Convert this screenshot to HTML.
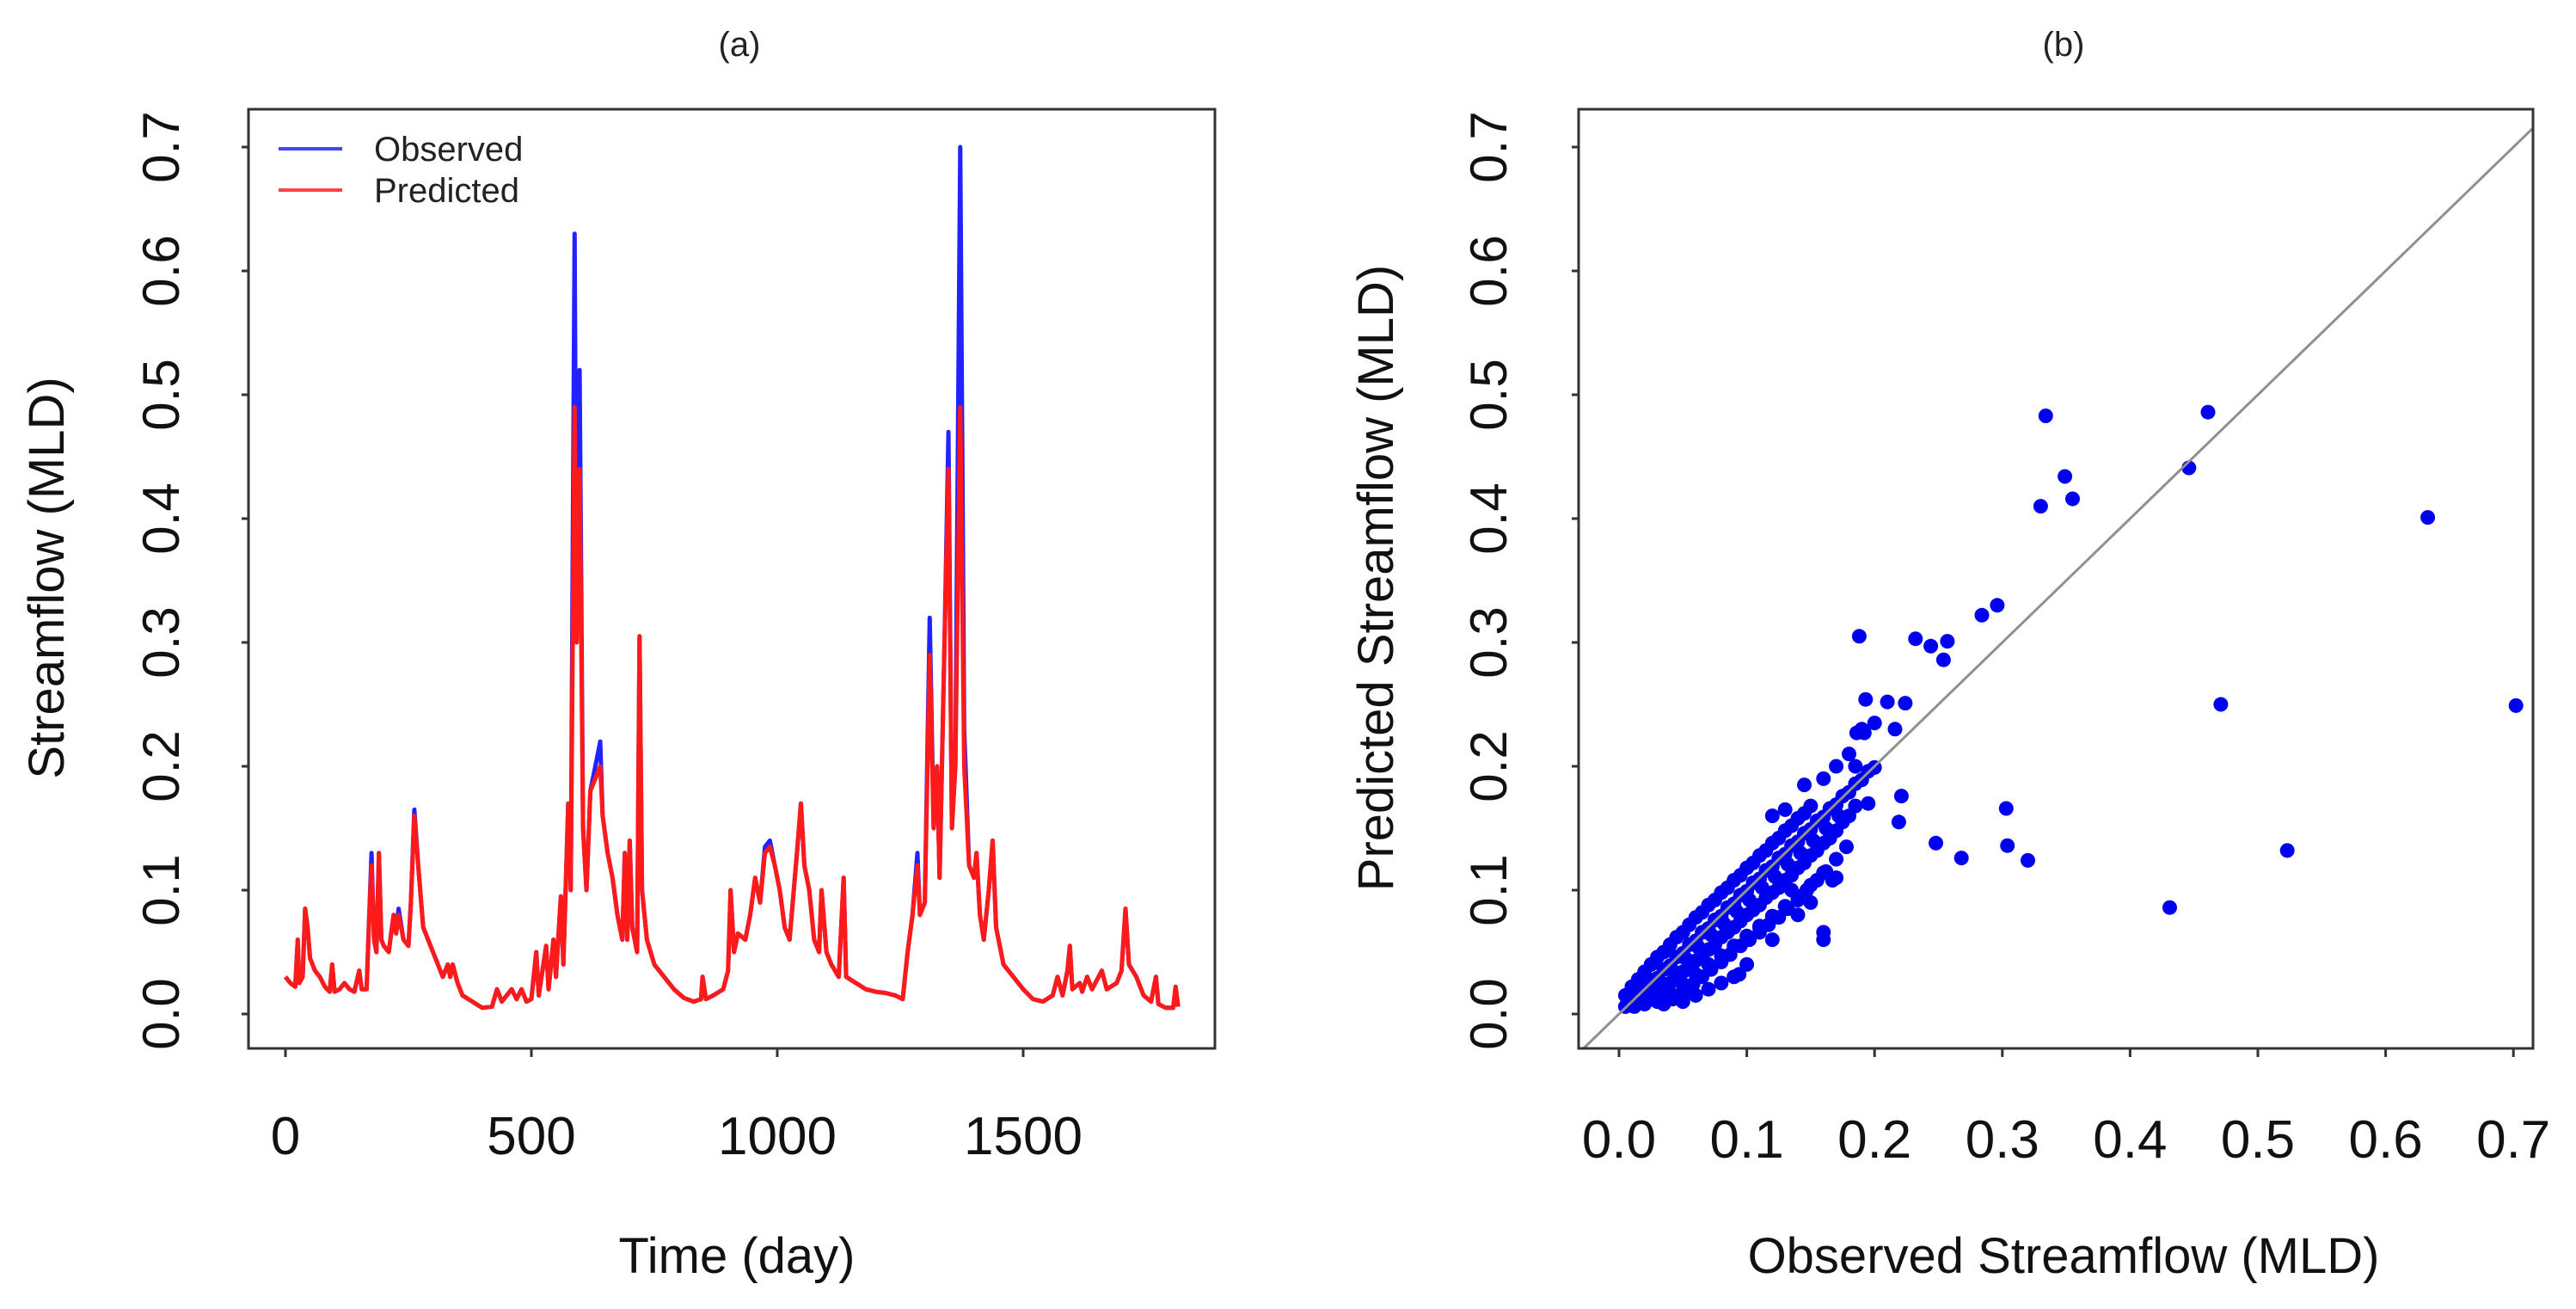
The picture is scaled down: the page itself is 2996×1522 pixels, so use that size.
<!DOCTYPE html>
<html><head><meta charset="utf-8">
<style>
html,body{margin:0;padding:0;background:#fff;}
svg{display:block;font-family:"Liberation Sans",Arial,sans-serif;}
</style></head>
<body>
<svg id="fig" width="2996" height="1522" viewBox="0 0 2996 1522" xmlns="http://www.w3.org/2000/svg">
<rect width="2996" height="1522" fill="#fff"/>
<g id="panelA"></g>
<g id="panelB"></g>
</svg>
<script>
// ---- Panel (a) data: day, observed, predicted ----
const days = [0,10,20,25,28,35,40,45,50,60,70,80,90,95,100,110,120,130,140,150,155,165,170,175,180,185,190,195,200,210,220,225,230,240,250,255,262,270,280,290,300,320,330,335,340,350,360,380,400,420,430,440,460,470,480,490,500,510,515,530,535,545,550,560,565,575,580,588,592,598,605,612,620,630,640,645,655,665,675,685,690,695,700,705,715,720,725,735,750,770,790,810,830,845,848,855,870,890,900,905,912,920,935,945,955,965,975,985,995,1005,1015,1025,1040,1048,1055,1065,1075,1085,1090,1100,1110,1125,1135,1140,1160,1180,1200,1220,1240,1255,1265,1275,1285,1290,1300,1310,1318,1325,1330,1340,1348,1355,1362,1372,1380,1390,1400,1405,1412,1420,1430,1438,1445,1460,1480,1500,1520,1540,1560,1570,1580,1590,1595,1600,1615,1620,1630,1640,1660,1670,1690,1700,1708,1715,1730,1745,1760,1770,1775,1790,1805,1810,1815];
const observed = [.03,.025,.022,.06,.025,.03,.085,.07,.045,.035,.03,.022,.018,.04,.018,.02,.025,.02,.018,.035,.02,.02,.075,.13,.06,.05,.13,.06,.055,.05,.08,.065,.085,.06,.055,.09,.165,.12,.07,.06,.05,.03,.04,.03,.04,.025,.015,.01,.005,.006,.02,.01,.02,.012,.02,.01,.012,.05,.015,.055,.02,.06,.03,.095,.04,.17,.1,.63,.3,.52,.15,.1,.18,.2,.22,.16,.13,.11,.08,.06,.13,.06,.14,.07,.05,.305,.1,.06,.04,.03,.02,.013,.01,.012,.03,.012,.015,.02,.035,.1,.05,.065,.06,.08,.11,.09,.135,.14,.12,.1,.07,.06,.13,.17,.12,.1,.06,.05,.1,.05,.04,.03,.11,.03,.025,.02,.018,.017,.015,.012,.05,.08,.13,.08,.09,.32,.15,.2,.11,.3,.47,.15,.2,.7,.23,.12,.11,.13,.08,.06,.1,.14,.07,.04,.03,.02,.012,.01,.015,.03,.015,.035,.055,.02,.025,.018,.03,.02,.035,.02,.025,.035,.085,.04,.03,.015,.01,.03,.008,.005,.005,.022,.006];
const predicted = [.03,.025,.022,.06,.025,.03,.085,.07,.045,.035,.03,.022,.018,.04,.018,.02,.025,.02,.018,.035,.02,.02,.075,.12,.06,.05,.13,.06,.055,.05,.08,.065,.08,.06,.055,.09,.16,.12,.07,.06,.05,.03,.04,.03,.04,.025,.015,.01,.005,.006,.02,.01,.02,.012,.02,.01,.012,.05,.015,.055,.02,.06,.03,.095,.04,.17,.1,.49,.3,.44,.15,.1,.18,.19,.2,.16,.13,.11,.08,.06,.13,.06,.14,.07,.05,.305,.1,.06,.04,.03,.02,.013,.01,.012,.03,.012,.015,.02,.035,.1,.05,.065,.06,.08,.11,.09,.13,.135,.12,.1,.07,.06,.13,.17,.12,.1,.06,.05,.1,.05,.04,.03,.11,.03,.025,.02,.018,.017,.015,.012,.05,.08,.12,.08,.09,.29,.15,.2,.11,.3,.44,.15,.2,.49,.2,.12,.11,.13,.08,.06,.1,.14,.07,.04,.03,.02,.012,.01,.015,.03,.015,.035,.055,.02,.025,.018,.03,.02,.035,.02,.025,.035,.085,.04,.03,.015,.01,.03,.008,.005,.005,.022,.006];
const xTicksA = [0,500,1000,1500];
const yTicks = [0,0.1,0.2,0.3,0.4,0.5,0.6,0.7];
const yTickLabels = ["0.0","0.1","0.2","0.3","0.4","0.5","0.6","0.7"];
// ---- Panel (b) data: observed vs predicted pairs ----
const scatterObs = [
.334,.461,.349,.446,.355,.330,.633,.296,.284,.188,.232,.244,.257,.254,.471,.702,.193,.210,.224,.216,.186,.192,.221,.303,.219,.248,.304,.268,.320,.523,.431,.160,.167,.094,
.005,.01,.015,.02,.025,.03,.035,.04,.045,.05,.055,.06,.065,.07,.075,.08,.085,.09,.095,.1,.105,.11,.115,.12,.125,.13,.135,.14,.145,.15,.155,.16,.165,.17,.175,.18,.185,.19,.195,.2,
.005,.01,.015,.02,.025,.03,.035,.04,.045,.05,.055,.06,.065,.07,.075,.08,.085,.09,.095,.1,.105,.11,.115,.12,.125,.13,.135,.14,.145,.15,
.02,.025,.03,.035,.04,.045,.05,.055,.06,.065,.07,.075,.08,.085,.09,.095,.1,.105,.11,.115,.12,.125,.13,.135,.14,.145,.15,.155,.16,.165,.17,.175,.18,.185,
.035,.042,.05,.058,.065,.072,.08,.087,.095,.102,.11,.117,.125,.132,.14,.147,.155,.162,.17,.178,
.05,.06,.07,.12,.13,.145,.16,.17,.18,.19,.2,.185,.195,.16,.14,.15,.135,.17,.12,.1,.09,.08,.11,
.012,.022,.032,.042,.052,.062,.072,.082,.092,.102,.112,.122,.132,.142,.152,.162,.172,
.03,.04,.05,.06,.07,.08,.09,.1,.11,.12,.13,.14,.15,.16];
const scatterPred = [
.483,.486,.434,.441,.416,.410,.401,.330,.322,.305,.303,.297,.301,.286,.250,.249,.254,.252,.251,.230,.227,.227,.176,.166,.155,.138,.136,.126,.124,.132,.086,.066,.108,.032,
.006,.009,.016,.019,.026,.029,.036,.039,.046,.049,.056,.059,.066,.069,.076,.079,.086,.089,.096,.099,.106,.109,.116,.119,.126,.129,.136,.139,.146,.149,.156,.159,.166,.169,.176,.179,.186,.189,.196,.199,
.015,.022,.028,.034,.04,.046,.05,.056,.062,.066,.072,.078,.082,.088,.092,.098,.102,.108,.112,.118,.122,.128,.132,.138,.142,.148,.152,.158,.162,.168,
.008,.012,.016,.02,.025,.03,.034,.038,.043,.048,.052,.056,.062,.066,.07,.075,.08,.084,.088,.094,.098,.102,.108,.112,.118,.122,.128,.132,.138,.142,.148,.155,.16,.168,
.008,.012,.018,.024,.03,.036,.042,.048,.055,.06,.066,.072,.078,.085,.092,.1,.108,.115,.125,.135,
.01,.015,.02,.16,.165,.185,.19,.2,.21,.23,.235,.2,.17,.06,.08,.09,.1,.11,.06,.04,.03,.025,.07,
.006,.016,.026,.035,.045,.054,.064,.073,.083,.092,.102,.111,.121,.13,.14,.15,.16,
.01,.017,.024,.032,.04,.047,.055,.063,.071,.079,.087,.095,.104,.114];
const xTicksB = [0,0.1,0.2,0.3,0.4,0.5,0.6,0.7];

const NS = "http://www.w3.org/2000/svg";
function mk(tag, attrs, parent){const e=document.createElementNS(NS,tag);for(const k in attrs)e.setAttribute(k,attrs[k]);parent.appendChild(e);return e;}

// axis functions
const yScale = v => 1179 - v*1440;
const xA = d => 332 + d*0.572;
const xB = v => 1883 + v*1486;

// ---------- Panel A ----------
const A = document.getElementById('panelA');
const tA = mk('text',{x:860,y:65,'font-size':40,'text-anchor':'middle',fill:'#222'},A);


tA.textContent='(a)';

function polyline(xs, ys, color, parent, name){
  let d='';
  for(let i=0;i<xs.length;i++){d+=(i?'L':'M')+xA(xs[i]).toFixed(1)+','+yScale(ys[i]).toFixed(1);}
  const p=mk('path',{d:d,fill:'none',stroke:color,'stroke-width':5,'stroke-linejoin':'round'},parent);
  
  
}
polyline(days, observed, '#2222ff', A, 'observed-line');
polyline(days, predicted, '#ff1a1a', A, 'predicted-line');

const boxA = mk('rect',{x:289,y:127,width:1124,height:1092,fill:'none',stroke:'#333','stroke-width':3},A);



yTicks.forEach((v,i)=>{
  const y=yScale(v);
  const tk=mk('line',{x1:281,x2:289,y1:y,y2:y,stroke:'#333','stroke-width':3},A);
  
  
  const t=mk('text',{x:0,y:0,'font-size':60,'text-anchor':'middle',fill:'#111',transform:`translate(208,${y}) rotate(-90)`},A);
  
  
  t.textContent=yTickLabels[i];
});
xTicksA.forEach(v=>{
  const x=xA(v);
  const tk=mk('line',{x1:x,x2:x,y1:1219,y2:1229,stroke:'#333','stroke-width':3},A);
  
  
  const t=mk('text',{x:x,y:1342,'font-size':62,'text-anchor':'middle',fill:'#111'},A);
  
  
  t.textContent=String(v);
});
const xtA=mk('text',{x:857,y:1480,'font-size':58,'text-anchor':'middle',fill:'#111'},A);


xtA.textContent='Time (day)';
const ytA=mk('text',{x:0,y:0,'font-size':58,'text-anchor':'middle',fill:'#111',transform:'translate(74,672) rotate(-90)'},A);


ytA.textContent='Streamflow (MLD)';

// legend
const lg=mk('g',{},A);


const l1=mk('line',{x1:324,x2:398,y1:173,y2:173,stroke:'#4444ff','stroke-width':4},lg);


const t1=mk('text',{x:435,y:187,'font-size':40,fill:'#222'},lg);


t1.textContent='Observed';
const l2=mk('line',{x1:324,x2:398,y1:221,y2:221,stroke:'#ff4444','stroke-width':4},lg);


const t2=mk('text',{x:435,y:235,'font-size':40,fill:'#222'},lg);


t2.textContent='Predicted';

// ---------- Panel B ----------
const B=document.getElementById('panelB');
const tB=mk('text',{x:2400,y:65,'font-size':40,'text-anchor':'middle',fill:'#222'},B);


tB.textContent='(b)';

const pts=mk('g',{fill:'#0000f0'},B);


for(let i=0;i<scatterObs.length;i++){
  const c=mk('circle',{cx:xB(scatterObs[i]).toFixed(1),cy:yScale(scatterPred[i]).toFixed(1),r:8.5},pts);
  
  
}
// 1:1 line clipped to box
const bx0=1836,bx1=2946,by0=127,by1=1219;
const vmin=Math.max((bx0-1883)/1486,(1179-by1)/1440), vmax=Math.min((bx1-1883)/1486,(1179-by0)/1440);
const dl=mk('line',{x1:xB(vmin),y1:yScale(vmin),x2:xB(vmax),y2:yScale(vmax),stroke:'#909090','stroke-width':3},B);



const boxB=mk('rect',{x:bx0,y:by0,width:bx1-bx0,height:by1-by0,fill:'none',stroke:'#333','stroke-width':3},B);



yTicks.forEach((v,i)=>{
  const y=yScale(v);
  const tk=mk('line',{x1:bx0-8,x2:bx0,y1:y,y2:y,stroke:'#333','stroke-width':3},B);
  
  
  const t=mk('text',{x:0,y:0,'font-size':60,'text-anchor':'middle',fill:'#111',transform:`translate(1752,${y}) rotate(-90)`},B);
  
  
  t.textContent=yTickLabels[i];
});
xTicksB.forEach((v,i)=>{
  const x=xB(v);
  const tk=mk('line',{x1:x,x2:x,y1:by1,y2:by1+10,stroke:'#333','stroke-width':3},B);
  
  
  const t=mk('text',{x:x,y:1346,'font-size':62,'text-anchor':'middle',fill:'#111'},B);
  
  
  t.textContent=yTickLabels[i];
});
const xtB=mk('text',{x:2400,y:1480,'font-size':58,'text-anchor':'middle',fill:'#111'},B);


xtB.textContent='Observed Streamflow (MLD)';
const ytB=mk('text',{x:0,y:0,'font-size':58,'text-anchor':'middle',fill:'#111',transform:'translate(1620,672) rotate(-90)'},B);


ytB.textContent='Predicted Streamflow (MLD)';
</script>
</body></html>
